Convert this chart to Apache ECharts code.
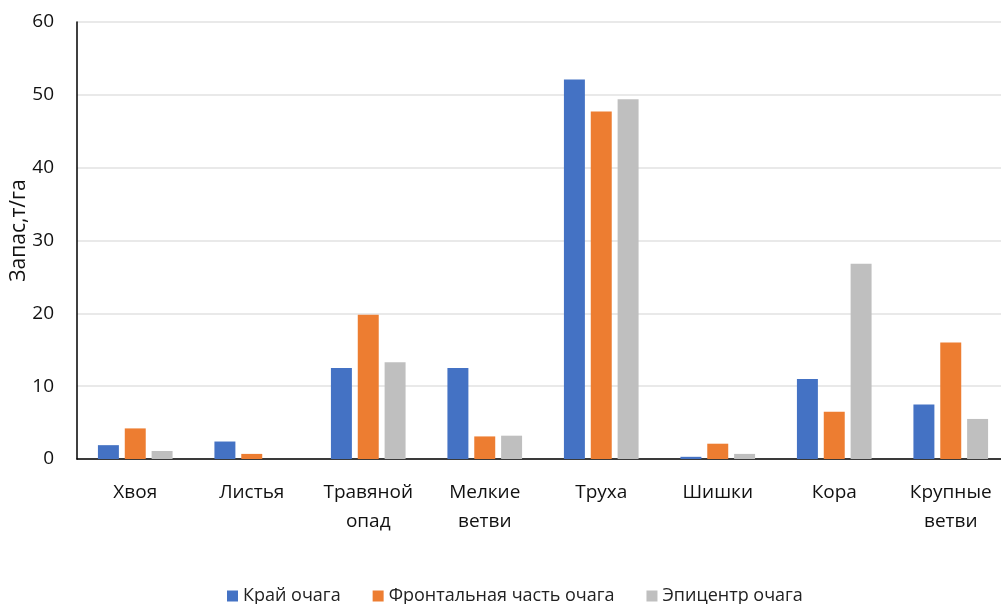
<!DOCTYPE html>
<html><head><meta charset="utf-8">
<script src="https://cdn.jsdelivr.net/npm/echarts@6/dist/echarts.min.js"></script>
<style>html,body{margin:0;padding:0;background:#fff}#c{width:1001px;height:604px}</style>
</head><body><div id="c"></div>
<script>
const categories = ["Хвоя","Листья","Травяной\nопад","Мелкие\nветви","Труха","Шишки","Кора","Крупные\nветви"];
const seriesNames = ["Край очага","Фронтальная часть очага","Эпицентр очага"];
const edge = [1.9, 2.4, 12.5, 12.5, 52.1, 0.3, 11.0, 7.5];
const front = [4.2, 0.7, 19.8, 3.1, 47.7, 2.1, 6.5, 16.0];
const epicenter = [1.1, 0, 13.3, 3.2, 49.4, 0.7, 26.8, 5.5];
const yTicks = [0, 10, 20, 30, 40, 50, 60];
const colors = ["#4472C4","#ED7D31","#BFBFBF"];
const font = "'Open Sans', sans-serif";

const chart = echarts.init(document.getElementById('c'));
const data = [edge, front, epicenter];
chart.setOption({
  animation:false,
  textStyle:{fontFamily:font},
  grid:{left:77, top:22, width:932, bottom:145, containLabel:false, outerBoundsMode:'none'},
  legend:{
    top:582, left:222, itemWidth:11, itemHeight:11, itemGap:32,
    icon:'rect',
    textStyle:{fontSize:18, color:'#222', fontFamily:font},
    data:seriesNames
  },
  xAxis:{
    type:'category', data:categories,
    axisLine:{lineStyle:{color:'#000', width:1.5}},
    axisTick:{show:false},
    axisLabel:{fontSize:19, color:'#111', margin:19, lineHeight:29, fontFamily:font, interval:0}
  },
  yAxis:{
    type:'value', min:yTicks[0], max:yTicks[yTicks.length-1], interval:10,
    name:'Запас,т/га', nameLocation:'middle', nameGap:47, nameMoveOverlap:false,
    nameTextStyle:{fontSize:21, color:'#111', fontFamily:font, padding:[0,0,0,20]},
    axisLine:{show:true, lineStyle:{color:'#000', width:1.5}},
    axisTick:{show:false},
    axisLabel:{fontSize:19, color:'#111', margin:23, fontFamily:font},
    splitLine:{lineStyle:{color:'#e2e2e2', width:1.5}}
  },
  series: seriesNames.map((n,i)=>({
    name:n, type:'bar', data:data[i], barWidth:'18%', barGap:'28%',
    itemStyle:{color:colors[i]}
  }))
});
</script></body></html>
